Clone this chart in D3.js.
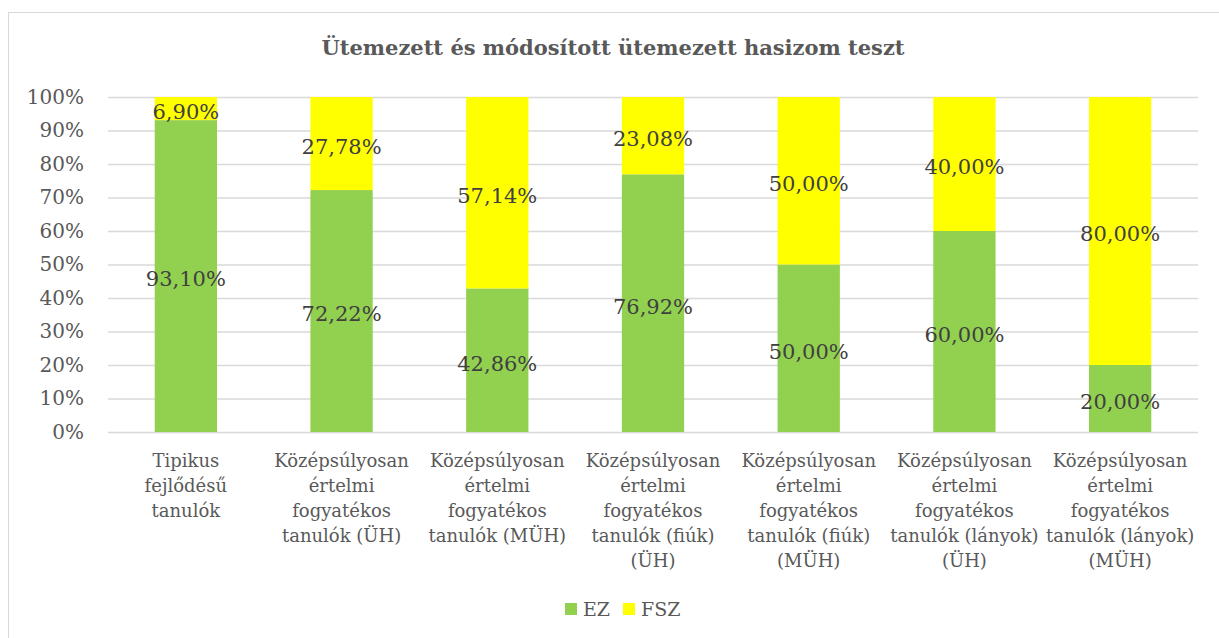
<!DOCTYPE html>
<html>
<head>
<meta charset="utf-8">
<script src="https://cdn.jsdelivr.net/npm/d3@7"></script>
<style>
  body { margin: 0; background: #fff; }
  text { font-family: "DejaVu Serif", "Liberation Serif", serif; }
</style>
</head>
<body>
<div id="chart"></div>
<script>
const categories = [
  ["Tipikus", "fejlődésű", "tanulók"],
  ["Középsúlyosan", "értelmi", "fogyatékos", "tanulók (ÜH)"],
  ["Középsúlyosan", "értelmi", "fogyatékos", "tanulók (MÜH)"],
  ["Középsúlyosan", "értelmi", "fogyatékos", "tanulók (fiúk)", "(ÜH)"],
  ["Középsúlyosan", "értelmi", "fogyatékos", "tanulók (fiúk)", "(MÜH)"],
  ["Középsúlyosan", "értelmi", "fogyatékos", "tanulók (lányok)", "(ÜH)"],
  ["Középsúlyosan", "értelmi", "fogyatékos", "tanulók (lányok)", "(MÜH)"]
];
const ezValues = [93.10, 72.22, 42.86, 76.92, 50.00, 60.00, 20.00];
const fszValues = [6.90, 27.78, 57.14, 23.08, 50.00, 40.00, 80.00];
const seriesNames = ["EZ", "FSZ"];
const colors = ["#92d050", "#ffff00"];
const yTicks = [0, 10, 20, 30, 40, 50, 60, 70, 80, 90, 100];

const width = 1219, height = 638;
const margin = { top: 97, right: 21, bottom: 206, left: 108 };

const svg = d3.select("#chart").append("svg")
  .attr("width", width)
  .attr("height", height);

// chart frame
svg.append("rect")
  .attr("x", 8.5).attr("y", 12.5)
  .attr("width", width + 20).attr("height", height + 20)
  .attr("fill", "none").attr("stroke", "#d9d9d9");

svg.append("text")
  .attr("x", 613).attr("y", 55)
  .attr("text-anchor", "middle")
  .attr("font-size", 21).attr("font-weight", "bold")
  .attr("fill", "#595959")
  .text("Ütemezett és módosított ütemezett hasizom teszt");

const x = d3.scaleBand()
  .domain(d3.range(categories.length))
  .range([margin.left, width - margin.right])
  .paddingInner(0.6).paddingOuter(0.3);

const y = d3.scaleLinear()
  .domain([0, 100])
  .range([height - margin.bottom, margin.top]);

// gridlines
svg.append("g")
  .selectAll("line")
  .data(yTicks)
  .enter().append("line")
  .attr("x1", margin.left).attr("x2", width - margin.right)
  .attr("y1", d => y(d) + 0.5).attr("y2", d => y(d) + 0.5)
  .attr("stroke", "#d9d9d9").attr("stroke-width", 1.5);

// y axis labels
const yAxis = svg.append("g")
  .attr("transform", `translate(${margin.left - 22},0)`)
  .call(d3.axisLeft(y).tickValues(yTicks).tickFormat(d => d + "%").tickSize(0));
yAxis.select(".domain").remove();
yAxis.selectAll("text")
  .attr("font-family", "DejaVu Serif")
  .attr("font-size", 20).attr("fill", "#595959")
  .attr("dx", 1);

const stacked = d3.stack().keys([0, 1])(
  ezValues.map((v, i) => ({ 0: v, 1: fszValues[i], i }))
);

const layers = svg.append("g").selectAll("g")
  .data(stacked)
  .enter().append("g")
  .attr("fill", (d, k) => colors[k]);

layers.selectAll("rect")
  .data(d => d)
  .enter().append("rect")
  .attr("x", d => x(d.data.i))
  .attr("y", d => y(d[1]))
  .attr("width", x.bandwidth())
  .attr("height", d => y(d[0]) - y(d[1]));

layers.selectAll("text")
  .data(d => d)
  .enter().append("text")
  .attr("x", d => x(d.data.i) + x.bandwidth() / 2)
  .attr("y", d => (y(d[0]) + y(d[1])) / 2 + 3)
  .attr("dy", "0.35em")
  .attr("text-anchor", "middle")
  .attr("font-size", 21)
  .attr("fill", "#404040")
  .text(d => (d[1] - d[0]).toFixed(2).replace(".", ",") + "%");

// category labels
const catG = svg.append("g").selectAll("text")
  .data(categories)
  .enter().append("text")
  .attr("x", (d, i) => x(i) + x.bandwidth() / 2)
  .attr("y", 467)
  .attr("text-anchor", "middle")
  .attr("font-size", 18)
  .attr("fill", "#595959");
catG.selectAll("tspan")
  .data(d => d)
  .enter().append("tspan")
  .attr("x", function () { return d3.select(this.parentNode).attr("x"); })
  .attr("dy", (d, j) => j === 0 ? 0 : 25)
  .text(d => d);

// legend
const legend = svg.append("g").selectAll("g")
  .data(seriesNames)
  .enter().append("g")
  .attr("transform", (d, i) => `translate(${565 + i * 58},603)`);
legend.append("rect")
  .attr("width", 12).attr("height", 12)
  .attr("fill", (d, i) => colors[i]);
legend.append("text")
  .attr("x", 18).attr("y", 13)
  .attr("font-size", 19).attr("fill", "#595959")
  .text(d => d);
</script>
</body>
</html>
